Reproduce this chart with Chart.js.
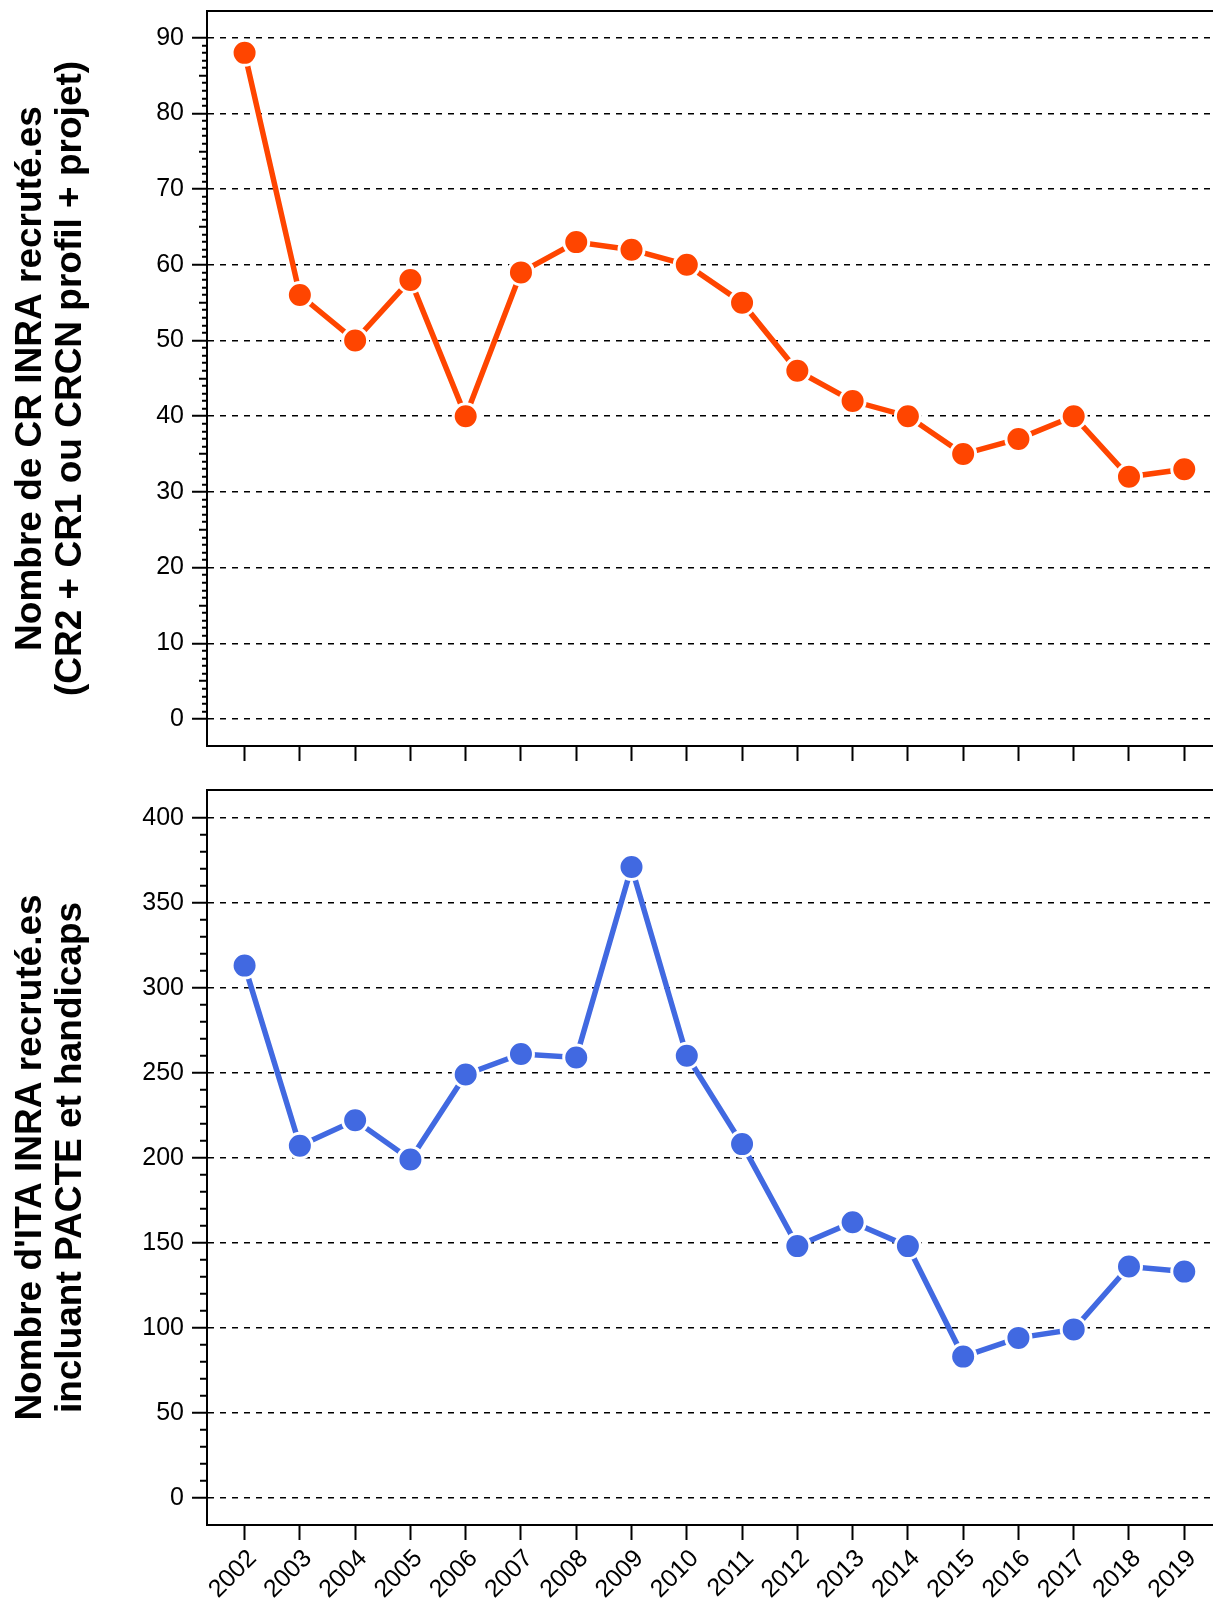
<!DOCTYPE html>
<html lang="fr">
<head>
<meta charset="UTF-8">
<title>Recrutements CR et ITA INRA 2002-2019</title>
<script src="https://cdn.jsdelivr.net/npm/chart.js@4"></script>
<style>
  html, body { margin: 0; padding: 0; background: #fff; overflow: hidden; }
  canvas { position: absolute; left: 0; }
  #crChart { top: 0; }
  #itaChart { top: 770px; }
</style>
</head>
<body>
<canvas id="crChart" width="1213" height="770"></canvas>
<canvas id="itaChart" width="1213" height="832"></canvas>
<script>
// données
const years = [2002, 2003, 2004, 2005, 2006, 2007, 2008, 2009, 2010, 2011, 2012, 2013, 2014, 2015, 2016, 2017, 2018, 2019];
const crValues = [88, 56, 50, 58, 40, 59, 63, 62, 60, 55, 46, 42, 40, 35, 37, 40, 32, 33];
const itaValues = [313, 207, 222, 199, 249, 261, 259, 371, 260, 208, 148, 162, 148, 83, 94, 99, 136, 133];
const crTickLabels = [0, 10, 20, 30, 40, 50, 60, 70, 80, 90];
const itaTickLabels = [0, 50, 100, 150, 200, 250, 300, 350, 400];
const crTitle = ['Nombre de CR INRA recruté.es', '(CR2 + CR1 ou CRCN profil + projet)'];
const itaTitle = ["Nombre d'ITA INRA recruté.es", 'incluant PACTE et handicaps'];

Chart.defaults.color = '#000';
Chart.defaults.font.family = '"Liberation Sans", Arial, Helvetica, sans-serif';

const TICK_LEN = 15;

function makeChart(id, values, color, title, tickLabels, minorStep, yMin, yMax, opts) {
  const major = tickLabels[1] - tickLabels[0];
  const isMajor = v => tickLabels.includes(v);
  const xRange = { min: 2001.32, max: 2019.52 };

  return new Chart(document.getElementById(id), {
    type: 'line',
    data: {
      datasets: [{
        data: years.map((y, i) => ({ x: y, y: values[i] })),
        borderColor: color,
        borderWidth: 5.5,
        pointRadius: 12.5,
        pointBackgroundColor: color,
        pointBorderColor: '#fff',
        pointBorderWidth: 3,
        tension: 0,
        clip: false
      }]
    },
    options: {
      responsive: false,
      animation: false,
      events: [],
      layout: { autoPadding: false, padding: { top: opts.padTop, left: 0, right: 0, bottom: 0 } },
      plugins: { legend: { display: false }, tooltip: { enabled: false } },
      scales: {
        x: {
          type: 'linear',
          position: 'bottom',
          min: xRange.min,
          max: xRange.max,
          afterBuildTicks: s => { s.ticks = years.map(y => ({ value: y })); },
          afterFit: s => { s.height = opts.xHeight; s.paddingLeft = 0; s.paddingRight = 0; },
          ticks: {
            display: opts.showYears,
            stepSize: 1,
            autoSkip: false,
            minRotation: 45,
            maxRotation: 45,
            padding: 4,
            labelOffset: 8,
            font: { size: 25 },
            callback: v => String(v)
          },
          grid: { drawOnChartArea: false, tickLength: TICK_LEN, tickWidth: 2, tickColor: '#000' },
          border: { display: true, color: '#000', width: 2 }
        },
        xTop: {
          type: 'linear',
          position: 'top',
          min: xRange.min,
          max: xRange.max,
          ticks: { display: false },
          grid: { display: false, drawTicks: false },
          border: { display: true, color: '#000', width: 2 }
        },
        y: {
          type: 'linear',
          min: yMin,
          max: yMax,
          afterBuildTicks: s => {
            s.ticks = s.ticks.filter(t => Math.abs(t.value - Math.round(t.value)) < 1e-9 &&
              t.value >= tickLabels[0] && t.value <= tickLabels[tickLabels.length - 1]);
          },
          afterFit: s => { s.width = 207; s.paddingTop = 0; s.paddingBottom = 0; },
          ticks: {
            stepSize: minorStep,
            autoSkip: false,
            padding: 8,
            font: { size: 25 },
            callback: v => isMajor(v) ? String(v) : ''
          },
          grid: {
            color: c => c.tick && isMajor(c.tick.value) ? '#000' : 'rgba(0,0,0,0)',
            lineWidth: 1.5,
            tickLength: TICK_LEN,
            tickWidth: 2,
            tickColor: '#000',
            // les petites graduations ne couvrent que la partie proche de l'axe
            tickBorderDash: c => {
              const v = c.tick ? c.tick.value : 0;
              if (isMajor(v)) return [];
              const len = (opts.halfLen && v % (major / 2) === 0) ? opts.halfLen : opts.minorLen;
              return [0, TICK_LEN - len, len, 100];
            }
          },
          border: { display: true, color: '#000', width: 2, dash: [6, 6] },
          title: {
            display: true,
            text: title,
            font: { size: 37, weight: 'bold', lineHeight: 1.1 },
            padding: { top: 10, bottom: 0 }
          }
        }
      }
    }
  });
}

makeChart('crChart', crValues, '#FF4500', crTitle, crTickLabels, 1, -3.57, 93.53,
  { padTop: 11, xHeight: 24, showYears: false, minorLen: 5, halfLen: 8 });
makeChart('itaChart', itaValues, '#4169E1', itaTitle, itaTickLabels, 10, -16.06, 416.3,
  { padTop: 20, xHeight: 77, showYears: true, minorLen: 7, halfLen: 0 });
</script>
</body>
</html>
